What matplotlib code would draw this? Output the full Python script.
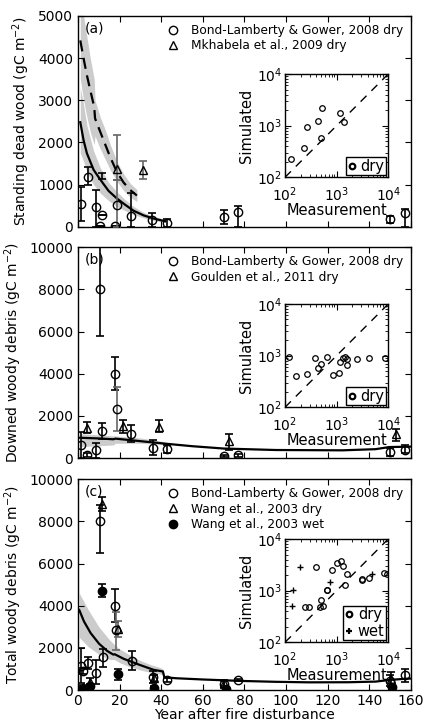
import numpy as np
import matplotlib
matplotlib.use("Agg")
import matplotlib.pyplot as plt

plt.rcParams.update({
    "font.family": "DejaVu Sans",
    "font.size": 10,
    "xtick.direction": "in",
    "ytick.direction": "in",
    "xtick.top": True,
    "ytick.right": True,
    "xtick.major.size": 4,
    "ytick.major.size": 4,
    "xtick.minor.size": 2,
    "ytick.minor.size": 2,
    "xtick.major.pad": 2.5,
    "axes.linewidth": 1.0,
})

# ---------------- (a) standing dead wood ----------------
sdw_bl_year = [1.6, 4.8, 8.8, 10.4, 11.7, 17.6, 18.7, 25.6, 35.8, 42.7, 70, 77, 150, 157]
sdw_bl = [545, 1185, 458, 20, 290, 20, 505, 253, 150, 80, 237, 340, 180, 316]
sdw_bl_lo = [130, 1000, 0, 20, 290, 20, 0, 0, 0, 0, 60, 0, 100, 0]
sdw_bl_hi = [935, 1420, 870, 20, 290, 20, 1100, 805, 330, 190, 400, 500, 250, 420]
# bar without a marker near year 12
sdw_extra_year = [11.7]
sdw_extra = [1200]
sdw_extra_lo = [1130]
sdw_extra_hi = [1270]

sdw_mk_year = [18.7, 31.0]
sdw_mk = [1360, 1340]
sdw_mk_lo = [1100, 1130]
sdw_mk_hi = [2180, 1560]

sdw_sim_year = [1.1, 2.7, 4.3, 7.5, 10.7, 14.7, 18.7, 22.7, 26.7, 31.5, 36.3, 41.9]
sdw_sim = [2480, 2050, 1740, 1350, 1120, 850, 670, 520, 380, 270, 195, 130]
sdw_sim_lo = [1750, 1550, 1300, 1000, 800, 620, 480, 380, 290, 210, 150, 100]
sdw_sim_hi = [3300, 2900, 2400, 1800, 1400, 1050, 830, 640, 480, 340, 250, 170]

sdw_mksim_year = [1.1, 2.7, 4.3, 5.9, 7.8, 8.2, 10.7, 13.1, 15.5, 18.7, 21.9, 25.1, 28.3]
sdw_mksim = [4420, 3990, 3590, 3240, 2840, 2570, 2250, 1950, 1650, 1300, 1050, 870, 740]
sdw_mksim_lo = [3500, 3000, 2600, 2250, 1950, 2150, 1850, 1600, 1350, 1080, 860, 700, 600]
sdw_mksim_hi = [5500, 5000, 4500, 4000, 3500, 3000, 2600, 2300, 1950, 1550, 1250, 1030, 880]

sdw_meas = [131, 237, 270, 441, 489, 528, 1178, 1387]
sdw_simulated = [223, 364, 956, 1213, 569, 2228, 1734, 1178]

# ---------------- (b) downed woody debris ----------------
dwd_bl_year = [1.3, 4.5, 8.6, 10.6, 11.7, 17.7, 18.7, 25.6, 35.9, 42.8, 70, 77, 150, 157]
dwd_bl = [616, 142, 379, 8000, 1264, 3990, 2340, 1120, 458, 410, 80, 126, 268, 395]
dwd_bl_lo = [0, 40, 0, 5800, 885, 3220, 1280, 775, 142, 221, 40, 60, 100, 250]
dwd_bl_hi = [1250, 250, 695, 10500, 1640, 4780, 3380, 1560, 853, 616, 120, 190, 480, 600]

dwd_gl_year = [4.5, 21.6, 38.7, 72.8, 152.8]
dwd_gl = [1406, 1517, 1485, 790, 1120]
dwd_gl_lo = [1170, 1200, 1250, 400, 820]
dwd_gl_hi = [1720, 1800, 1800, 1140, 1400]

dwd_sim_year = [1, 10, 17, 18, 25, 36, 42, 55, 70, 95, 127, 143, 149.5, 160]
dwd_sim = [960, 930, 890, 920, 850, 740, 680, 560, 450, 380, 365, 420, 520, 540]
dwd_band_year = [1, 10, 17, 18, 30, 40, 42]
dwd_band_lo = [550, 580, 620, 700, 700, 650, 600]
dwd_band_hi = [1150, 1100, 1050, 1050, 950, 800, 750]

dwd_meas = [121, 161, 270, 380, 441, 489, 659, 837, 1128, 1178, 1306, 1472, 1563, 1585, 2438, 4228, 8497]
dwd_simulated = [929, 404, 442, 887, 569, 679, 929, 416, 469, 765, 887, 929, 849, 659, 875, 887, 887]

# ---------------- (c) total woody debris ----------------
twd_bl_year = [1.6, 2.4, 4.8, 8.8, 10.7, 12.0, 17.6, 18.4, 25.9, 36.0, 42.7, 70, 77, 150, 157]
twd_bl = [1150, 900, 1300, 800, 8000, 1550, 3990, 2850, 1400, 620, 480, 290, 480, 430, 700]
twd_bl_lo = [330, 750, 1020, 270, 6480, 1100, 3220, 1900, 950, 330, 380, 110, 420, 200, 380]
twd_bl_hi = [2000, 1050, 1580, 1430, 8800, 1950, 4780, 3700, 1830, 900, 580, 430, 540, 700, 1000]

twd_wd_year = [2.4, 5.9, 11.7, 19.4, 36.3, 70.2, 150.5]
twd_wd = [150, 400, 8830, 2880, 550, 320, 500]
twd_wd_lo = [50, 250, 8480, 2500, 400, 170, 150]
twd_wd_hi = [250, 550, 9180, 3260, 700, 470, 850]

twd_ww_year = [2.0, 5.6, 11.7, 19.4, 36.6, 70.9, 150.8]
twd_ww = [30, 190, 4720, 750, 120, 60, 130]
twd_ww_lo = [0, 90, 4420, 480, 60, 20, 70]
twd_ww_hi = [60, 290, 5020, 1020, 180, 100, 190]

twd_sim_year = [0.6, 2.9, 6.1, 10.1, 14.1, 17.0, 17.6, 22, 26, 30, 36.3, 40.8, 41.5, 47, 60,
                79, 95, 111, 130, 143, 149.5, 157.5, 160]
twd_sim = [3800, 3250, 2700, 2200, 1850, 1680, 1700, 1480, 1330, 1180, 960, 880, 610, 560, 500,
           430, 390, 365, 370, 400, 475, 538, 545]
twd_band_year = [0.6, 5, 10, 15, 17.5, 20, 25, 30, 35, 40, 41]
twd_band_lo = [2500, 2050, 1700, 1450, 1450, 1300, 1100, 950, 830, 750, 700]
twd_band_hi = [4600, 3800, 3000, 2400, 2150, 1950, 1650, 1400, 1200, 1050, 980]

twd_meas = [244, 292, 393, 483, 489, 543, 640, 659, 824, 1030, 1194, 1344, 1429, 1607,
            3048, 3100, 4160, 8375, 9290]
twd_simulated = [476, 476, 2917, 489, 659, 513, 1030, 1010, 2477, 3483, 3750, 3048, 1288, 2104,
                 1682, 1600, 1734, 2163, 2070]
twd_meas_wet = [195, 145, 136, 743, 4900]
twd_simulated_wet = [2917, 1030, 513, 1493, 2104]

BAND = "0.8"
EGRAY = "0.4"


def errbars(ax, x, y, lo, hi, fmt, label=None, ecolor="k", mfc="none", ms=6, gray_at=()):
    x = np.array(x, dtype=float)
    y = np.array(y, dtype=float)
    yerr = np.array([y - np.array(lo), np.array(hi) - y])
    gray = np.isin(x, gray_at)
    for mask, col in [(~gray, ecolor), (gray, EGRAY)]:
        if mask.any():
            ax.errorbar(x[mask], y[mask], yerr=yerr[:, mask], fmt="none", ecolor=col,
                        elinewidth=1.2, capsize=3, capthick=1.2, zorder=3)
    if fmt != "none":
        ax.plot(x, y, fmt, mfc=mfc, mec="k", ms=ms, mew=1.0, label=label, zorder=4)


def setup_main(ax, ymax, ystep, ylabel, tag, bottom=False):
    ax.set_xlim(0, 160)
    ax.set_ylim(0, ymax)
    ax.set_xticks(np.arange(0, 161, 20))
    ax.set_yticks(np.arange(0, ymax + 1, ystep))
    ax.set_ylabel(ylabel)
    if bottom:
        ax.set_xlabel("Year after fire disturbance", labelpad=0)
    else:
        ax.set_xticklabels([])
    ax.text(0.02, 0.975, tag, transform=ax.transAxes, ha="left", va="top", fontsize=10)
    ax.legend(loc="upper right", frameon=False, fontsize=8.7, numpoints=1,
              handlelength=1.5, handletextpad=0.7, borderaxespad=0.25, labelspacing=0.2)


def inset(fig, rect, meas, sim, meas_wet=None, sim_wet=None):
    ax = fig.add_axes(rect)
    ax.set_xscale("log")
    ax.set_yscale("log")
    ax.plot([1e2, 1e4], [1e2, 1e4], "k--", lw=1.0, dashes=(6, 5))
    ax.plot(meas, sim, "o", mfc="none", mec="k", ms=4, mew=0.9, label="dry")
    if meas_wet is not None:
        ax.plot(meas_wet, sim_wet, "+", color="k", ms=4, mew=1.0, label="wet")
    ax.set_xlim(1e2, 1e4)
    ax.set_ylim(1e2, 1e4)
    ax.set_xticks([1e2, 1e3, 1e4])
    ax.set_yticks([1e2, 1e3, 1e4])
    ax.tick_params(which="both", top=True, right=True, labelsize=10)
    ax.tick_params(axis="y", pad=2)
    ax.tick_params(axis="x", pad=6)
    ax.set_xlabel("Measurement", labelpad=-1, fontsize=10.5)
    ax.set_ylabel("Simulated", labelpad=2, fontsize=10.5)
    leg = ax.legend(loc="lower right", fontsize=10.5, numpoints=1, handlelength=0.6,
                    handletextpad=0.3, borderpad=0.1, borderaxespad=0.15,
                    labelspacing=0.1, fancybox=False, framealpha=1)
    leg.get_frame().set_edgecolor("k")
    leg.get_frame().set_linewidth(1.0)
    for h in leg.legend_handles:
        h.set_markeredgewidth(1.6)
        h.set_markersize(4)
    return ax


fig = plt.figure(figsize=(4.25, 7.23), dpi=100)
L, W, H = 0.1835, 0.7835, 0.2915

# (a)
ax1 = fig.add_axes([L, 0.6864, W, H])
ax1.fill_between(sdw_mksim_year, sdw_mksim_lo, sdw_mksim_hi, color=BAND, lw=0, zorder=1)
ax1.fill_between(sdw_sim_year, sdw_sim_lo, sdw_sim_hi, color=BAND, lw=0, zorder=1)
ax1.plot(sdw_mksim_year, sdw_mksim, "k--", lw=1.6, dashes=(5, 3), zorder=2)
ax1.plot(sdw_sim_year, sdw_sim, "k-", lw=1.6, zorder=2)
errbars(ax1, sdw_extra_year, sdw_extra, sdw_extra_lo, sdw_extra_hi, "none")
errbars(ax1, sdw_bl_year, sdw_bl, sdw_bl_lo, sdw_bl_hi, "o",
        label="Bond-Lamberty & Gower, 2008 dry", gray_at=(18.7,))
errbars(ax1, sdw_mk_year, sdw_mk, sdw_mk_lo, sdw_mk_hi, "^",
        label="Mkhabela et al., 2009 dry", ecolor=EGRAY)
setup_main(ax1, 5000, 1000, "Standing dead wood (gC m$^{-2}$)", "(a)")

# (b)
ax2 = fig.add_axes([L, 0.3665, W, H])
ax2.fill_between(dwd_band_year, dwd_band_lo, dwd_band_hi, color=BAND, lw=0, zorder=1)
ax2.plot(dwd_sim_year, dwd_sim, "k-", lw=1.6, zorder=2)
errbars(ax2, dwd_bl_year, dwd_bl, dwd_bl_lo, dwd_bl_hi, "o",
        label="Bond-Lamberty & Gower, 2008 dry", gray_at=(18.7,))
errbars(ax2, dwd_gl_year, dwd_gl, dwd_gl_lo, dwd_gl_hi, "^",
        label="Goulden et al., 2011 dry")
setup_main(ax2, 10000, 2000, "Downed woody debris (gC m$^{-2}$)", "(b)")

# (c)
ax3 = fig.add_axes([L, 0.0456, W, H])
ax3.fill_between(twd_band_year, twd_band_lo, twd_band_hi, color=BAND, lw=0, zorder=1)
ax3.plot(twd_sim_year, twd_sim, "k-", lw=1.6, zorder=2)
errbars(ax3, twd_bl_year, twd_bl, twd_bl_lo, twd_bl_hi, "o",
        label="Bond-Lamberty & Gower, 2008 dry", gray_at=(18.4,))
errbars(ax3, twd_wd_year, twd_wd, twd_wd_lo, twd_wd_hi, "^",
        label="Wang et al., 2003 dry", gray_at=(19.4,))
errbars(ax3, twd_ww_year, twd_ww, twd_ww_lo, twd_ww_hi, "o",
        label="Wang et al., 2003 wet", mfc="k")
setup_main(ax3, 10000, 2000, "Total woody debris (gC m$^{-2}$)", "(c)", bottom=True)

inset(fig, [0.6706, 0.7548, 0.243, 0.1429], sdw_meas, sdw_simulated)
inset(fig, [0.6706, 0.4367, 0.243, 0.1429], dwd_meas, dwd_simulated)
inset(fig, [0.6706, 0.1116, 0.243, 0.1429], twd_meas, twd_simulated,
      twd_meas_wet, twd_simulated_wet)

fig.savefig("out.png", dpi=100)
